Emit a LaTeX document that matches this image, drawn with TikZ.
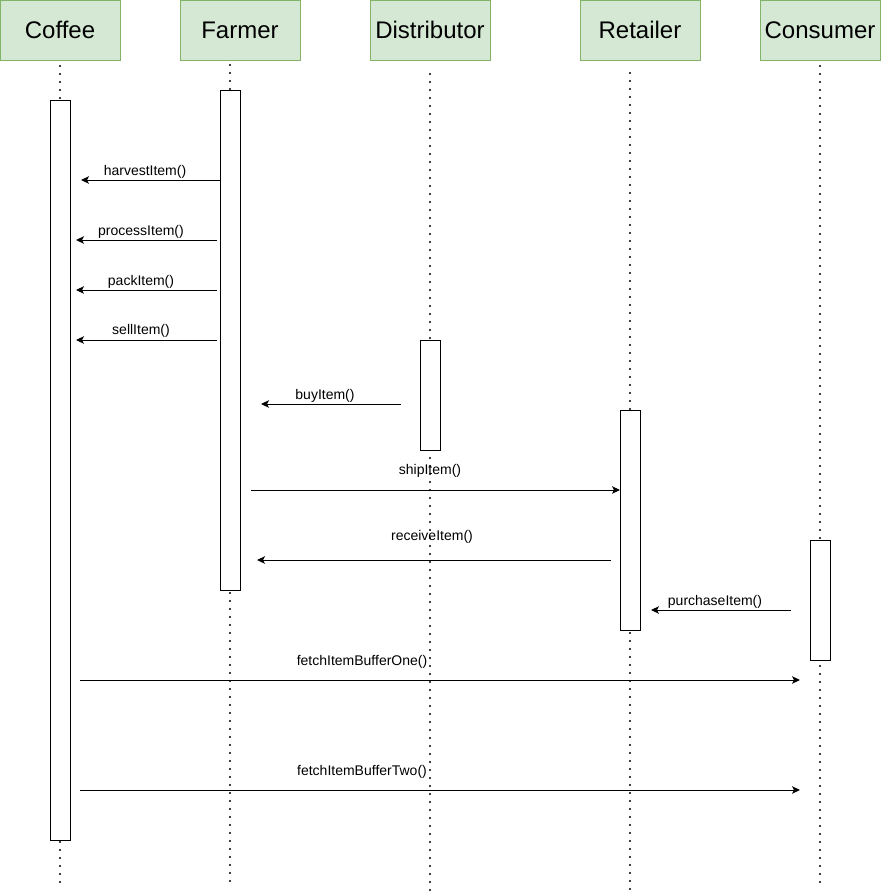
\documentclass[tikz,border=0pt]{standalone}
\usepackage{fontspec}
\setmainfont{Liberation Sans}
\usetikzlibrary{arrows.meta}
\definecolor{hdrfill}{HTML}{D5E8D4}
\definecolor{hdrdraw}{HTML}{82B366}
\begin{document}
\begin{tikzpicture}[x=1pt,y=-1pt,
  header/.style={draw=hdrdraw,fill=hdrfill,line width=1pt,minimum width=120pt,minimum height=60pt,inner sep=0pt,font=\fontsize{24}{28}\selectfont},
  lifeline/.style={line width=2.2pt,dash pattern=on 0pt off 8pt,line cap=round},
  actbox/.style={draw=black,fill=white,line width=1pt,minimum width=20pt,inner sep=0pt},
  msg/.style={-{Stealth[length=8pt,width=7.5pt,inset=2pt]},line width=1pt},
  lbl/.style={font=\fontsize{14}{16}\selectfont,inner sep=0pt}]
\useasboundingbox[fill=white] (0,0) rectangle (881,895);
% headers
\node[header] (coffee) at (60,30) {Coffee};
\node[header] (farmer) at (240,30) {Farmer};
\node[header] (distributor) at (430,30) {Distributor};
\node[header] (retailer) at (640,30) {Retailer};
\node[header] (consumer) at (820,30) {Consumer};
% lifelines
\coordinate (coffeeT) at (60,66);   \coordinate (coffeeB) at (60,884);
\coordinate (farmerT) at (230,65);  \coordinate (farmerB) at (230,884);
\coordinate (distT) at (430,74);    \coordinate (distB) at (430,890);
\coordinate (retT) at (630,73);     \coordinate (retB) at (630,890);
\coordinate (consT) at (820,66);    \coordinate (consB) at (820,884);
\draw[lifeline] (coffeeT) -- (coffeeB);
\draw[lifeline] (farmerT) -- (farmerB);
\draw[lifeline] (distT) -- (distB);
\draw[lifeline] (retT) -- (retB);
\draw[lifeline] (consT) -- (consB);
% activation boxes
\node[actbox,minimum height=740pt] (coffeeAct) at (60,470) {};
\node[actbox,minimum height=500pt] (farmerAct) at (230,340) {};
\node[actbox,minimum height=110pt] (distAct) at (430,395) {};
\node[actbox,minimum height=220pt] (retAct) at (630,520) {};
\node[actbox,minimum height=120pt] (consAct) at (820,600) {};
% messages
\foreach \nm/\xa/\xb/\yy/\lx/\ly/\txt in {
  harvest/220/81/180/145/172/harvestItem(),
  process/217/76/240/141/232/processItem(),
  pack/217/76/290/141/282/packItem(),
  sell/217/76/340/141/331/sellItem(),
  buy/401/261/404/325/396/buyItem(),
  ship/251/620/490/430/471/shipItem(),
  receive/611/257/560/432/537/receiveItem(),
  purchase/791/651/610/715/602/purchaseItem(),
  fetchone/80/800/680/362/662/fetchItemBufferOne(),
  fetchtwo/80/800/790/362/772/fetchItemBufferTwo()}{
  \coordinate (\nm S) at (\xa,\yy);
  \coordinate (\nm E) at (\xb,\yy);
  \draw[msg] (\nm S) -- (\nm E);
  \node[lbl] (\nm L) at (\lx,\ly) {\txt};
}
\end{tikzpicture}
\end{document}
